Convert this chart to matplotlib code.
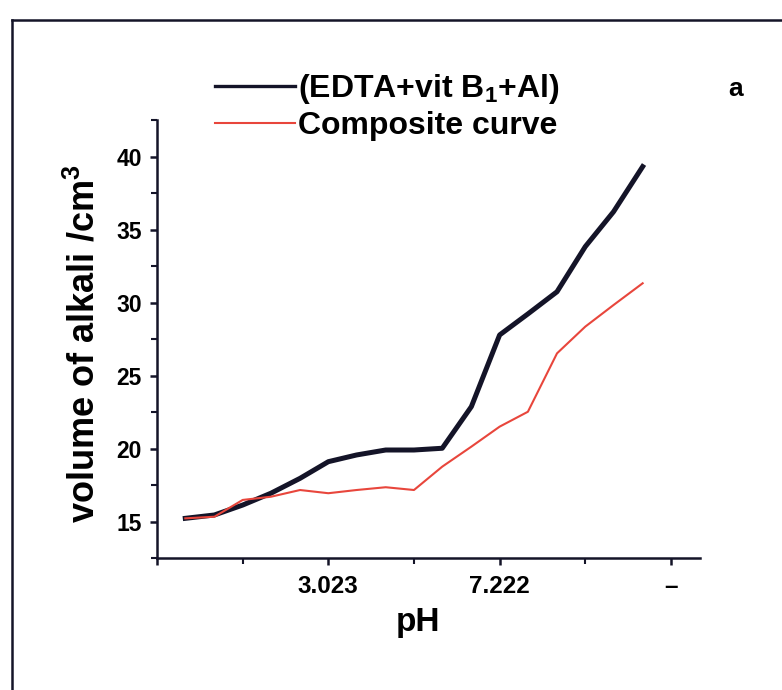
import matplotlib
matplotlib.use("Agg")
import matplotlib.pyplot as plt
from matplotlib.lines import Line2D
from matplotlib.ticker import MultipleLocator, FixedLocator

# titration points (x in tick units, volume of alkali in cm3)
x_pts = [0.33, 0.67, 1.0, 1.33, 1.67, 2.0, 2.33, 2.67, 3.0, 3.33, 3.67,
         4.0, 4.33, 4.67, 5.0, 5.33, 5.67]
edta_vit_al = [15.25, 15.48, 16.16, 16.97, 17.99, 19.13, 19.59, 19.93, 19.93,
               20.05, 22.90, 27.81, 29.25, 30.77, 33.86, 36.25, 39.34]
composite = [15.25, 15.36, 16.51, 16.73, 17.19, 16.97, 17.19, 17.38, 17.19,
             18.79, 20.16, 21.53, 22.55, 26.55, 28.38, 29.86, 31.35]

tick_pos = [0, 2, 4, 6]
tick_labels = ["", "3.023", "7.222", "\u2013"]

label_black = "(EDTA+vit B$_\\mathregular{1}$+Al)"
label_red = "Composite curve"

plt.rcParams['font.family'] = ['Liberation Sans', 'DejaVu Sans']
plt.rcParams['font.weight'] = 'bold'
plt.rcParams['mathtext.default'] = 'bf'

ink = '#141428'
red = '#e8463c'

fig = plt.figure(figsize=(7.82, 6.9), dpi=100)
ax = fig.add_axes([0.2008, 0.1906, 0.6944, 0.6348])

ax.plot(x_pts, edta_vit_al, color=ink, lw=3.6, solid_joinstyle='round')
ax.plot(x_pts, composite, color=red, lw=1.5)

ax.set_xlim(0, 6.34)
ax.set_ylim(12.5, 42.5)

for s in ['top', 'right']:
    ax.spines[s].set_visible(False)
for s in ['left', 'bottom']:
    ax.spines[s].set_linewidth(1.8)
    ax.spines[s].set_color(ink)

ax.xaxis.set_major_locator(FixedLocator(tick_pos))
ax.set_xticklabels(tick_labels)
ax.xaxis.set_minor_locator(FixedLocator([1, 3, 5]))
ax.yaxis.set_major_locator(MultipleLocator(5))
ax.yaxis.set_minor_locator(MultipleLocator(2.5))

ax.tick_params(which='major', direction='out', length=5, width=1.8,
               color=ink, labelsize=16.5, pad=6)
ax.tick_params(which='minor', direction='out', length=4, width=1.5, color=ink)
ax.tick_params(axis='x', which='major', labelsize=17.5, pad=7)

ax.set_xlabel("pH", fontsize=24, fontweight='bold')
ax.set_ylabel("volume of alkali /cm$^\\mathregular{3}$", fontsize=26,
              fontweight='bold')
ax.xaxis.set_label_coords(0.48, -0.11)
ax.yaxis.set_label_coords(-0.10, 0.49)

handles = [Line2D([], [], color=ink, lw=2.4), Line2D([], [], color=red, lw=1.5)]
ax.legend(handles, [label_black, label_red], loc='upper left',
          bbox_to_anchor=(215 / 782, 1 - 72 / 690), bbox_transform=fig.transFigure,
          frameon=False, handlelength=2.5, handletextpad=0.1,
          borderpad=0, borderaxespad=0, labelspacing=0.15,
          prop={'weight': 'bold', 'size': 23})

fig.text(736 / 782, 1 - 89 / 690, "a", fontsize=19, fontweight='bold',
         ha='center', va='center')

# panel frame (top and left edges)
fig.add_artist(Line2D([12 / 782, 1], [1 - 20 / 690, 1 - 20 / 690],
                      transform=fig.transFigure, color=ink, lw=1.8))
fig.add_artist(Line2D([12 / 782, 12 / 782], [0, 1 - 20 / 690],
                      transform=fig.transFigure, color=ink, lw=1.8))

fig.savefig("out.png", dpi=100)
